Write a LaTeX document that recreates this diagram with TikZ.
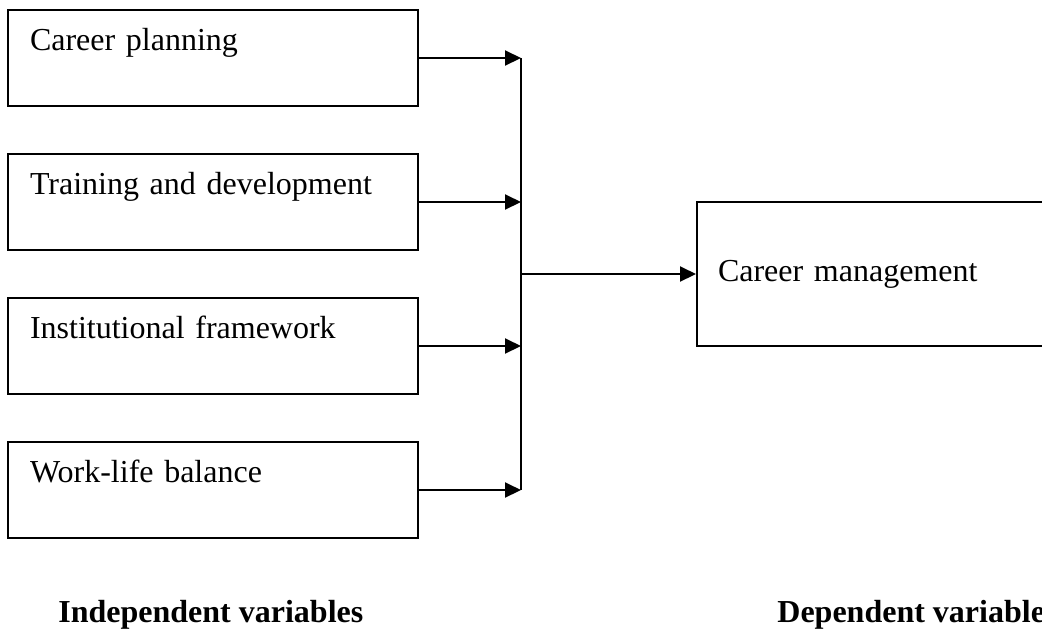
\documentclass[tikz,border=0pt]{standalone}
\usepackage{fontspec}
\setmainfont{Liberation Serif}
\usetikzlibrary{arrows.meta}
\tikzstyle{varbox} = [rectangle, 
draw=black, line width=1pt,
minimum width=205pt, 
text width=183pt, align=left,
inner xsep=11pt, inner ysep=6pt,
text height=14pt, text depth=22pt,
font=\fontsize{16}{19}\selectfont]
\tikzstyle{outbox} = [rectangle, 
draw=black, line width=1pt,
minimum width=174pt, 
minimum height=72pt,
text width=153pt, align=left,
inner xsep=10.5pt,
font=\fontsize{16}{19}\selectfont]
\tikzstyle{arrow} = [line width=1pt,-{Triangle[length=8pt,width=7.5pt]}]
\tikzstyle{heading} = [anchor=base west, inner sep=0pt, font=\bfseries\fontsize{16}{19}\selectfont]

\begin{document}
\begin{tikzpicture}[node distance=72pt]
        \useasboundingbox (0,0) rectangle (521pt,-316.5pt);
        \node (cp) [varbox] at (106.5pt,-29pt) {Career planning};
        \node (td) [varbox, below of=cp] {Training and development};
        \node (inf) [varbox, below of=td] {Institutional framework};
        \node (wlb) [varbox, below of=inf] {Work-life balance};
        \node (cm) [outbox] at (435.5pt,-137pt) {Career management};
        \coordinate (join) at (260.5pt,-137pt);
        \coordinate (j1) at (cp.east -| join);
        \coordinate (j2) at (td.east -| join);
        \coordinate (j3) at (inf.east -| join);
        \coordinate (j4) at (wlb.east -| join);
        \draw [arrow] (cp) -- (j1);
        \draw [arrow] (td) -- (j2);
        \draw [arrow] (inf) -- (j3);
        \draw [arrow] (wlb) -- (j4);
        \draw [line width=1pt] (j1) -- (j4);
        \draw [arrow] (join) -- (cm);
        \node (iv) [heading] at (29pt,-311pt) {Independent variables};
        \node (dv) [heading] at (388.5pt,-311pt) {Dependent variable};
    \end{tikzpicture}
\end{document}
